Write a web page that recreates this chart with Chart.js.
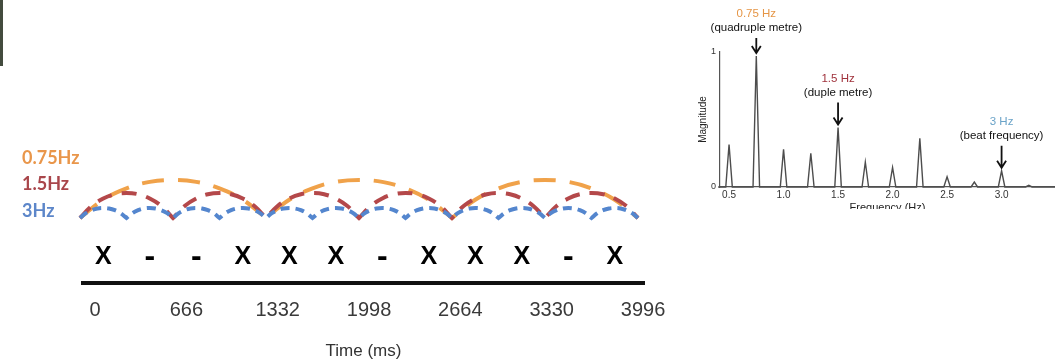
<!DOCTYPE html>
<html>
<head>
<meta charset="utf-8">
<title>Metre and beat frequencies</title>
<script src="https://cdn.jsdelivr.net/npm/chart.js@4.4.1/dist/chart.umd.min.js"></script>
<style>
  html, body { margin: 0; padding: 0; background: #fff; }
  body { width: 1055px; height: 364px; position: relative; overflow: hidden; }
  #edge { position: absolute; left: 0; top: 0; width: 3px; height: 66px; background: #434b3e; }
  #metre { position: absolute; left: 0; top: 0; filter: blur(0.5px); }
  #spectrum-wrap { position: absolute; left: 690px; top: 0; width: 365px; height: 209px; overflow: hidden; }
</style>
</head>
<body>
<div id="edge"></div>
<canvas id="metre" width="690" height="364"></canvas>
<div id="spectrum-wrap"><canvas id="spectrum" width="365" height="240"></canvas></div>

<script>
// ---- metre panel data ----
const timeTicks = [0, 666, 1332, 1998, 2664, 3330, 3996];
const rhythm = ['X', '-', '-', 'X', 'X', 'X', '-', 'X', 'X', 'X', '-', 'X'];
const metreLabels = ['0.75Hz', '1.5Hz', '3Hz'];
const quadCusps = [0, 1332, 2664, 3996];
const dupleCusps = [0, 666, 1332, 1998, 2664, 3330, 3996];
const beatCusps = [0, 333, 666, 999, 1332, 1665, 1998, 2331, 2664, 2997, 3330, 3663, 3996];
const arcHeights = [3.8, 2.5, 1.0];
// relative height of one hump, read at eighths of its span
const humpProfile = [0, 0.48, 0.78, 0.95, 1, 0.95, 0.78, 0.48, 0];

// ---- spectrum panel data ----
const peakFreqs = [0.5, 0.75, 1.0, 1.25, 1.5, 1.75, 2.0, 2.25, 2.5, 2.75, 3.0, 3.25];
const peakMags = [0.315, 0.97, 0.28, 0.25, 0.44, 0.185, 0.145, 0.36, 0.075, 0.037, 0.12, 0.012];
const freqTicks = [0.5, 1.0, 1.5, 2.0, 2.5, 3.0];
const calloutFreqs = [0.75, 1.5, 3.0];
const calloutHz = ['0.75 Hz', '1.5 Hz', '3 Hz'];
const calloutNotes = ['(quadruple metre)', '(duple metre)', '(beat frequency)'];

const arcColours = ['#F0A24A', '#B4484A', '#5486CE'];
const labelColours = ['#E9964A', '#A9464B', '#5C86C9'];
const calloutColours = ['#E59545', '#A0323C', '#6AA3C8'];

// one hump per interval; the shared cusp point is repeated so each hump meets the next in a V
function arcPoints(cusps, height) {
    const pts = [];
    const steps = humpProfile.length - 1;
    for (let i = 0; i < cusps.length - 1; i++) {
        const span = cusps[i + 1] - cusps[i];
        humpProfile.forEach((p, k) => {
            pts.push({ x: cusps[i] + span * k / steps, y: height * p });
        });
    }
    return pts;
}

function arcSet(label, cusps, height, colour, dash, order) {
    return {
        label,
        data: arcPoints(cusps, height),
        showLine: true,
        borderColor: colour,
        borderWidth: 4,
        borderDash: dash,
        pointRadius: 0,
        tension: 0.4,
        clip: false,
        order
    };
}

const metreText = {
    id: 'metreText',
    afterDraw(chart) {
        const { ctx, chartArea, scales } = chart;
        ctx.save();
        // frequency names stacked on the left
        ctx.font = 'bold 18px Lato';
        ctx.textBaseline = 'middle';
        ctx.textAlign = 'left';
        metreLabels.forEach((t, i) => {
            ctx.fillStyle = labelColours[i];
            ctx.fillText(t, 22, 158 + i * 26.5);
        });
        // rhythm pattern, one symbol per beat
        ctx.fillStyle = '#000';
        ctx.textAlign = 'center';
        rhythm.forEach((s, i) => {
            const x = scales.x.getPixelForValue((beatCusps[i] + beatCusps[i + 1]) / 2);
            ctx.font = s === 'X' ? 'bold 25px "Liberation Sans"' : 'bold 32px "Liberation Sans"';
            ctx.fillText(s, x, chartArea.bottom - 26);
        });
        ctx.restore();
    }
};

new Chart(document.getElementById('metre'), {
    type: 'scatter',
    data: {
        datasets: [
            arcSet(metreLabels[0], quadCusps, arcHeights[0], arcColours[0], [22, 14], 3),
            arcSet(metreLabels[1], dupleCusps, arcHeights[1], arcColours[1], [15, 10], 2),
            arcSet(metreLabels[2], beatCusps, arcHeights[2], arcColours[2], [9, 6], 1)
        ]
    },
    options: {
        responsive: false,
        animation: false,
        layout: { padding: { left: 83, right: 46, top: 100, bottom: 0 } },
        plugins: { legend: { display: false }, tooltip: { enabled: false } },
        scales: {
            x: { type: 'linear', display: false, min: 21.5, max: 4039 },
            y: { type: 'linear', display: false, min: -6.5, max: 11.8 },
            time: {
                type: 'linear',
                position: 'bottom',
                min: -87.5,
                max: 4003,
                afterBuildTicks: s => { s.ticks = timeTicks.map(v => ({ value: v })); },
                afterFit: s => { s.height = 81; },
                grid: { display: false, drawTicks: false },
                border: { display: true, color: '#111', width: 4 },
                ticks: {
                    color: '#3a3a3a',
                    font: { family: 'Liberation Sans', size: 20 },
                    padding: 15,
                    autoSkip: false,
                    maxRotation: 0,
                    callback: v => String(v)
                },
                title: {
                    display: true,
                    text: 'Time (ms)',
                    color: '#333',
                    font: { family: 'Liberation Sans', size: 17 },
                    padding: { top: 4, bottom: 2 }
                }
            }
        }
    },
    plugins: [metreText]
});

// ---- spectrum ----
const PEAK_HALF_WIDTH = 0.03;

function spectrumPoints() {
    const pts = [{ x: 0.4, y: 0 }];
    peakFreqs.forEach((f, i) => {
        pts.push({ x: f - PEAK_HALF_WIDTH, y: 0 });
        pts.push({ x: f, y: peakMags[i] });
        pts.push({ x: f + PEAK_HALF_WIDTH, y: 0 });
    });
    pts.push({ x: 3.5, y: 0 });
    return pts;
}

const callouts = {
    id: 'callouts',
    afterDatasetsDraw(chart) {
        const { ctx, chartArea, scales } = chart;
        ctx.save();
        calloutFreqs.forEach((f, i) => {
            const x = scales.x.getPixelForValue(f);
            const top = scales.y.getPixelForValue(peakMags[peakFreqs.indexOf(f)]);
            const tip = top - 3;
            const start = Math.max(tip - 22, chartArea.top - 14);
            // arrow
            ctx.strokeStyle = '#111';
            ctx.lineWidth = 1.8;
            ctx.beginPath();
            ctx.moveTo(x, start);
            ctx.lineTo(x, tip);
            ctx.moveTo(x - 4.5, tip - 7);
            ctx.lineTo(x, tip);
            ctx.lineTo(x + 4.5, tip - 7);
            ctx.stroke();
            // labels
            ctx.textAlign = 'center';
            ctx.textBaseline = 'middle';
            ctx.font = '11.5px "Liberation Sans"';
            ctx.fillStyle = '#111';
            ctx.fillText(calloutNotes[i], x, start - 10);
            ctx.fillStyle = calloutColours[i];
            ctx.fillText(calloutHz[i], x, start - 24);
        });
        ctx.restore();
    }
};

new Chart(document.getElementById('spectrum'), {
    type: 'scatter',
    data: {
        datasets: [{
            data: spectrumPoints(),
            showLine: true,
            borderColor: '#4d4d4d',
            borderWidth: 1.4,
            pointRadius: 0,
            tension: 0,
            clip: false
        }]
    },
    options: {
        responsive: false,
        animation: false,
        layout: { padding: { left: 0, right: 0, top: 52, bottom: 0 } },
        plugins: { legend: { display: false }, tooltip: { enabled: false } },
        scales: {
            x: {
                type: 'linear',
                min: 0.417,
                max: 3.49,
                afterBuildTicks: s => { s.ticks = freqTicks.map(v => ({ value: v })); },
                afterFit: s => { s.height = 53; },
                grid: { display: false, drawTicks: false },
                border: { display: true, color: '#555', width: 1.2 },
                ticks: {
                    color: '#333',
                    font: { family: 'Liberation Sans', size: 10 },
                    padding: 2,
                    autoSkip: false,
                    maxRotation: 0,
                    callback: v => v.toFixed(1)
                },
                title: {
                    display: true,
                    text: 'Frequency (Hz)',
                    color: '#222',
                    font: { family: 'Liberation Sans', size: 11 },
                    padding: { top: 0, bottom: 25 }
                }
            },
            y: {
                type: 'linear',
                min: 0,
                max: 1,
                afterBuildTicks: s => { s.ticks = [{ value: 0 }, { value: 1 }]; },
                afterFit: s => { s.width = 30; },
                grid: { display: false, drawTicks: false },
                border: { display: true, color: '#555', width: 1.2 },
                ticks: {
                    color: '#333',
                    font: { family: 'Liberation Sans', size: 9 },
                    padding: 4
                },
                title: {
                    display: true,
                    text: 'Magnitude',
                    color: '#222',
                    font: { family: 'Liberation Sans', size: 10 },
                    padding: { top: 7, bottom: 0 }
                }
            }
        }
    },
    plugins: [callouts]
});
</script>
</body>
</html>
